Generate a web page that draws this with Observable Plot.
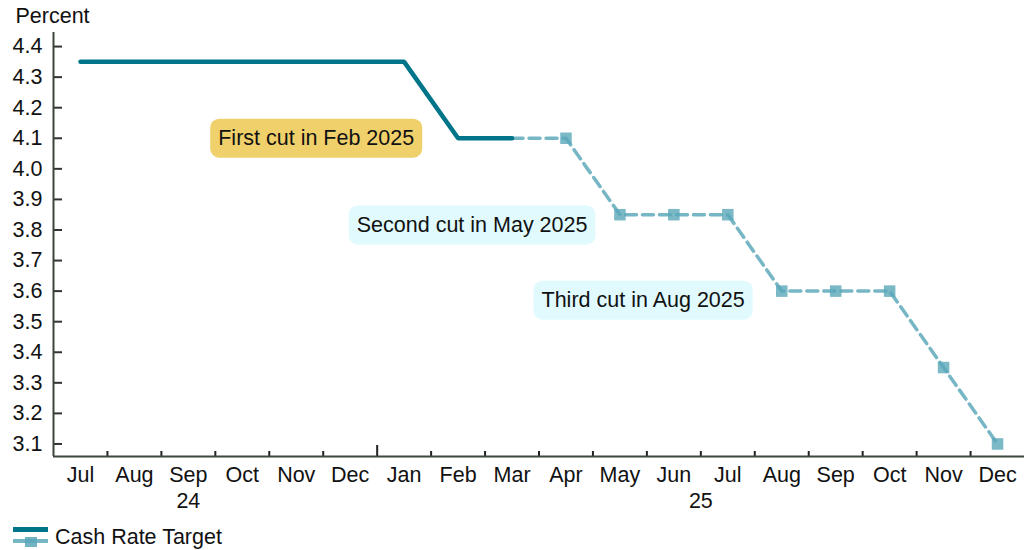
<!DOCTYPE html>
<html><head><meta charset="utf-8">
<script src="https://cdn.jsdelivr.net/npm/d3@7"></script>
<script src="https://cdn.jsdelivr.net/npm/@observablehq/plot@0.6"></script>
<style>
body{margin:0;background:#fff;font-family:"Liberation Sans",Arial,sans-serif;}
#chart{position:relative;width:1028px;height:550px;overflow:hidden;background:#fff}
#legend{position:absolute;left:0;top:514px;width:1028px;height:36px}
#legend span{position:absolute;left:55px;top:11px;font-size:21.5px;line-height:24px;color:#111}
</style></head><body><div id="chart"><div id="plot"></div><div id="legend"></div></div>
<script>
// Months on the x axis (Jul 2024 – Dec 2025)
const months = ["Jul","Aug","Sep","Oct","Nov","Dec","Jan","Feb","Mar","Apr","May","Jun","Jul","Aug","Sep","Oct","Nov","Dec"];
const yearLabels = ["24","25"];
const yearLabelAt = [2, 11.5];
const yearBoundary = [5.5];
// Actual cash rate target, Jul 2024 – Mar 2025
const actualStart = 0;
const actualValues = [4.35,4.35,4.35,4.35,4.35,4.35,4.35,4.10,4.10];
// Expected path, Mar 2025 – Dec 2025
const forecastStart = 8;
const forecastValues = [4.10,4.10,3.85,3.85,3.85,3.60,3.60,3.60,3.35,3.10];
const yTicks = [3.1,3.2,3.3,3.4,3.5,3.6,3.7,3.8,3.9,4.0,4.1,4.2,4.3,4.4];
// Annotations
const noteText = ["First cut in Feb 2025","Second cut in May 2025","Third cut in Aug 2025"];
const noteMonth = [4.37, 7.26, 10.43];
const noteValue = [4.10, 3.816, 3.57];
const noteFill = ["#efd06b","#e0fafd","#e0fafd"];

const solidColor = "#00758a";
const dashColor = "#76b6c5";
const FS = 21.5;

const actual = actualValues.map((v,i)=>({m: actualStart+i, v}));
const forecast = forecastValues.map((v,i)=>({m: forecastStart+i, v}));
const markers = forecast.slice(1);
const notes = noteText.map((t,i)=>({t, m: noteMonth[i], v: noteValue[i], fill: noteFill[i]}));
const monthIdx = months.map((_,i)=>i);
const boundaries = d3.range(0.5, months.length - 0.5, 1).filter(b => !yearBoundary.includes(b));

const yDomain = [3.059, 4.446];
const xDomain = [-0.5, months.length - 0.5];

const chart = Plot.plot({
  width: 1028,
  height: 514,
  marginTop: 32,
  marginBottom: 58,
  marginLeft: 53,
  marginRight: 4,
  style: {fontFamily: '"Liberation Sans", Arial, sans-serif', fontSize: FS + "px", color: "#111", background: "#fff"},
  x: {domain: xDomain, axis: null},
  y: {domain: yDomain, axis: null},
  marks: [
    Plot.axisY(yTicks, {tickSize: -9, tickPadding: 20, tickFormat: d3.format(".1f"), stroke: "#333", strokeWidth: 2, label: null}),
    Plot.axisX(monthIdx, {tickSize: 0, tickPadding: 10, tickFormat: i => months[i], label: null}),
    Plot.axisX(boundaries, {tickSize: -5, text: null, stroke: "#222", strokeWidth: 2, label: null}),
    Plot.axisX(yearBoundary, {tickSize: -11, text: null, stroke: "#222", strokeWidth: 2, label: null}),
    Plot.axisX(yearLabelAt, {tickSize: 0, tickPadding: 36, tickFormat: (d,i) => yearLabels[i], label: null}),
    Plot.ruleX([xDomain[0]], {stroke: "#3c463c", strokeWidth: 2}),
    Plot.ruleY([yDomain[0]], {stroke: "#3c463c", strokeWidth: 2}),
    Plot.text(["Percent"], {frameAnchor: "top-left", dx: -38, dy: -16, textAnchor: "start", lineAnchor: "middle", fontSize: FS, fill: "#111"}),
    Plot.line(forecast, {x: "m", y: "v", stroke: dashColor, strokeWidth: 3.5, strokeDasharray: "11,6"}),
    Plot.dot(markers, {x: "m", y: "v", symbol: "square", r: 6.5, fill: "#5aa7b9", fillOpacity: 0.8, stroke: "none"}),
    Plot.line(actual, {x: "m", y: "v", stroke: solidColor, strokeWidth: 4.5, strokeLinejoin: "miter"}),
    Plot.text(notes, {x: "m", y: "v", text: "t", fontSize: FS, fill: "#111"})
  ]
});
document.getElementById("plot").appendChild(chart);

// rounded background boxes behind annotation text
d3.select(chart).selectAll("text").each(function() {
  const k = noteText.indexOf(this.textContent);
  if (k < 0) return;
  const b = this.getBBox();
  const r = document.createElementNS("http://www.w3.org/2000/svg","rect");
  const padX = 8, padY = 8;
  r.setAttribute("x", b.x - padX);
  r.setAttribute("y", b.y - padY + 0.5);
  r.setAttribute("width", b.width + 2*padX);
  r.setAttribute("height", b.height + 2*padY - 1);
  r.setAttribute("rx", 9);
  r.setAttribute("fill", noteFill[k]);
  const tr = this.getAttribute("transform");
  if (tr) r.setAttribute("transform", tr);
  this.parentNode.insertBefore(r, this);
});

// legend
const leg = document.getElementById("legend");
leg.innerHTML = `<svg width="60" height="36" style="position:absolute;left:0;top:0">
  <line x1="13" x2="48" y1="15.5" y2="15.5" stroke="${solidColor}" stroke-width="5"/>
  <line x1="13" x2="48" y1="27" y2="27" stroke="${dashColor}" stroke-width="4"/>
  <rect x="25" y="23" width="12" height="10" fill="#5aa7b9" fill-opacity="0.85"/>
</svg><span>Cash Rate Target</span>`;
</script>
</body></html>
